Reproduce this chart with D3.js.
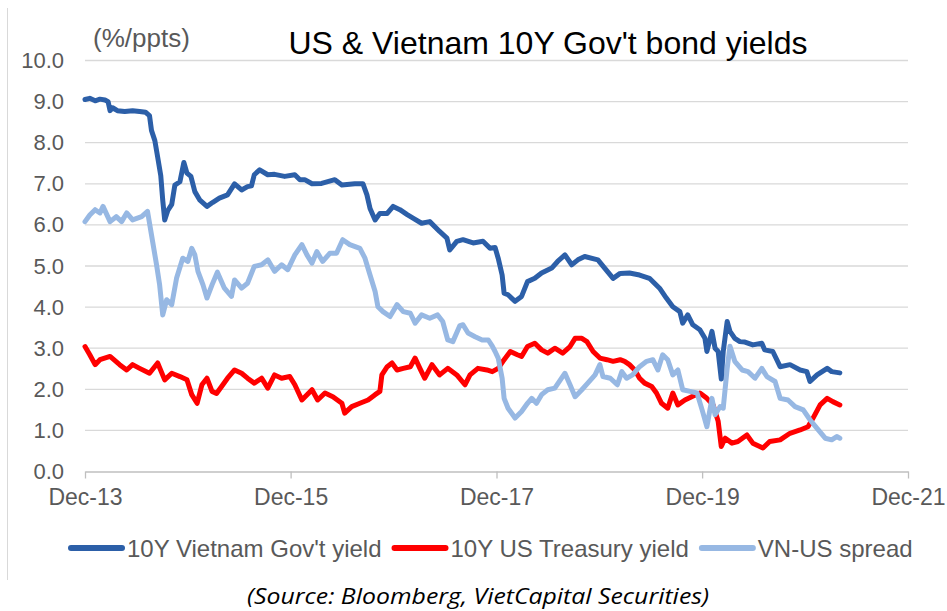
<!DOCTYPE html>
<html>
<head>
<meta charset="utf-8">
<script src="https://cdn.jsdelivr.net/npm/d3@7/dist/d3.min.js"></script>
<style>
  html, body { margin: 0; padding: 0; background: #fff; }
  svg { display: block; }
</style>
</head>
<body>
<svg id="chart" width="947" height="611"></svg>
<script>
// ---- Data: 10Y Vietnam Gov't yield (%) ----
const vnDates = [
  "2013-12-01","2013-12-18","2014-01-06","2014-01-23","2014-02-10","2014-02-21","2014-02-28","2014-03-09","2014-03-26","2014-04-21",
  "2014-05-19","2014-06-13","2014-07-04","2014-07-18","2014-07-25","2014-08-06","2014-08-16","2014-08-27","2014-09-03","2014-09-10",
  "2014-09-21","2014-10-05","2014-10-16","2014-11-03","2014-11-17","2014-11-28","2014-12-12","2014-12-26","2015-01-13","2015-02-07",
  "2015-02-28","2015-03-23","2015-04-21","2015-05-16","2015-06-10","2015-07-01","2015-07-15","2015-07-25","2015-08-13","2015-09-11",
  "2015-10-05","2015-11-10","2015-12-16","2016-01-03","2016-01-20","2016-02-15","2016-03-20","2016-05-06","2016-05-31","2016-07-16",
  "2016-08-14","2016-08-28","2016-09-08","2016-09-26","2016-10-13","2016-11-08","2016-11-29","2016-12-23","2017-01-18","2017-02-09",
  "2017-03-10","2017-04-08","2017-05-13","2017-06-08","2017-06-18","2017-07-13","2017-08-04","2017-09-09","2017-10-14","2017-11-08",
  "2017-11-26","2017-12-07","2017-12-21","2017-12-28","2018-01-11","2018-02-05","2018-02-28","2018-03-21","2018-04-16","2018-05-10",
  "2018-06-15","2018-07-06","2018-08-01","2018-08-25","2018-09-16","2018-10-10","2018-11-26","2018-12-20","2019-01-19","2019-02-13",
  "2019-03-18","2019-04-23","2019-05-28","2019-07-03","2019-07-27","2019-08-19","2019-09-13","2019-09-23","2019-10-11","2019-10-29",
  "2019-11-23","2019-12-11","2019-12-18","2020-01-05","2020-01-16","2020-01-27","2020-02-07","2020-02-14","2020-02-28","2020-03-09",
  "2020-03-26","2020-04-13","2020-05-01","2020-05-29","2020-06-30","2020-07-10","2020-08-08","2020-09-03","2020-10-08","2020-11-13",
  "2020-12-07","2020-12-18","2021-01-12","2021-02-17","2021-03-05","2021-04-03"
];
const vnYield = [
  9.05,9.08,9.02,9.06,9.04,9.00,8.78,8.85,8.78,8.76,
  8.78,8.76,8.74,8.66,8.30,8.05,7.65,7.20,6.60,6.12,
  6.35,6.50,6.97,7.05,7.52,7.26,7.18,6.81,6.60,6.45,
  6.55,6.65,6.73,7.00,6.85,6.93,6.95,7.22,7.34,7.22,
  7.23,7.18,7.22,7.10,7.10,7.00,7.01,7.10,6.97,7.00,
  7.00,6.73,6.40,6.12,6.28,6.28,6.45,6.37,6.25,6.16,
  6.04,6.08,5.84,5.68,5.39,5.60,5.64,5.56,5.60,5.43,
  5.45,5.19,4.78,4.34,4.30,4.14,4.26,4.62,4.70,4.83,
  4.95,5.11,5.27,5.03,5.15,5.23,5.15,4.95,4.70,4.82,
  4.83,4.78,4.70,4.46,4.22,4.01,3.89,3.61,3.81,3.57,
  3.45,3.24,2.92,3.41,3.00,2.92,2.25,2.92,3.65,3.41,
  3.24,3.16,3.15,3.08,3.12,2.96,2.92,2.55,2.60,2.47,
  2.43,2.19,2.35,2.51,2.43,2.40
];

// ---- Data: 10Y US Treasury yield (%) ----
const usDates = [
  "2013-12-01","2013-12-18","2014-01-06","2014-01-23","2014-02-28","2014-04-03","2014-04-28","2014-05-19","2014-06-13","2014-07-18",
  "2014-08-16","2014-09-10","2014-10-05","2014-11-03","2014-11-28","2014-12-15","2015-01-03","2015-01-20","2015-02-07","2015-02-25",
  "2015-03-13","2015-03-31","2015-04-21","2015-05-16","2015-06-10","2015-07-01","2015-07-25","2015-08-20","2015-09-11","2015-10-05",
  "2015-10-30","2015-11-28","2015-12-16","2016-01-10","2016-02-15","2016-03-06","2016-04-01","2016-04-29","2016-05-31","2016-06-10",
  "2016-07-05","2016-08-03","2016-09-01","2016-09-26","2016-10-13","2016-10-20","2016-11-08","2016-11-25","2016-12-13","2017-01-04",
  "2017-01-29","2017-02-15","2017-03-04","2017-03-21","2017-04-16","2017-05-13","2017-06-11","2017-07-13","2017-08-11","2017-08-29",
  "2017-09-26","2017-10-28","2017-11-16","2017-12-07","2017-12-24","2018-01-19","2018-02-13","2018-02-28","2018-03-21","2018-04-16",
  "2018-05-10","2018-06-01","2018-06-26","2018-07-24","2018-08-19","2018-09-06","2018-09-30","2018-10-18","2018-11-09","2018-12-03",
  "2018-12-28","2019-01-19","2019-02-13","2019-03-01","2019-03-18","2019-04-06","2019-04-23","2019-05-11","2019-06-05","2019-06-22",
  "2019-07-10","2019-08-01","2019-08-19","2019-09-06","2019-10-01","2019-10-25","2019-11-23","2019-12-18","2020-01-09","2020-01-27",
  "2020-02-07","2020-02-21","2020-03-16","2020-04-06","2020-05-08","2020-05-29","2020-07-04","2020-07-28","2020-09-03","2020-10-08",
  "2020-11-13","2020-12-11","2020-12-29","2021-01-23","2021-02-17","2021-03-09","2021-04-03"
];
const usYield = [
  3.04,2.84,2.60,2.72,2.80,2.60,2.47,2.60,2.51,2.39,
  2.64,2.23,2.39,2.31,2.23,1.87,1.66,2.11,2.27,1.95,
  1.90,2.07,2.27,2.47,2.39,2.27,2.15,2.27,2.03,2.35,
  2.27,2.31,2.11,1.74,1.99,1.74,1.91,1.82,1.66,1.42,
  1.58,1.66,1.74,1.87,1.95,2.35,2.55,2.64,2.47,2.51,
  2.55,2.76,2.51,2.27,2.60,2.35,2.51,2.35,2.11,2.35,
  2.51,2.47,2.43,2.51,2.68,2.92,2.84,2.80,3.04,3.12,
  2.96,2.88,3.00,2.88,3.04,3.24,3.24,3.16,2.92,2.76,
  2.72,2.68,2.72,2.68,2.60,2.47,2.27,2.15,2.07,1.91,
  1.66,1.54,1.91,1.62,1.74,1.82,1.91,1.78,1.62,1.22,
  0.61,0.81,0.69,0.73,0.89,0.69,0.57,0.73,0.77,0.93,
  1.01,1.09,1.30,1.62,1.78,1.70,1.62
];

// ---- Data: VN-US spread (ppts) ----
const spreadDates = [
  "2013-12-01","2013-12-18","2014-01-06","2014-01-23","2014-02-03","2014-02-28","2014-03-22","2014-04-10","2014-04-28","2014-05-19",
  "2014-06-20","2014-07-11","2014-07-25","2014-08-12","2014-08-23","2014-09-03","2014-09-17","2014-10-05","2014-10-22","2014-11-13",
  "2014-12-01","2014-12-15","2014-12-26","2015-01-06","2015-01-24","2015-02-07","2015-02-25","2015-03-16","2015-04-10","2015-05-05",
  "2015-05-16","2015-06-10","2015-07-01","2015-07-25","2015-08-20","2015-09-11","2015-10-05","2015-10-30","2015-11-21","2015-12-16",
  "2016-01-10","2016-01-28","2016-02-15","2016-03-03","2016-03-24","2016-04-18","2016-05-12","2016-06-03","2016-06-28","2016-08-03",
  "2016-08-21","2016-09-08","2016-09-26","2016-10-06","2016-10-24","2016-11-18","2016-12-13","2017-01-04","2017-01-29","2017-02-15",
  "2017-03-10","2017-04-08","2017-05-06","2017-05-24","2017-06-11","2017-06-29","2017-07-24","2017-08-04","2017-08-22","2017-09-16",
  "2017-10-11","2017-11-02","2017-11-16","2017-11-26","2017-12-07","2017-12-21","2017-12-28","2018-01-11","2018-02-05","2018-02-28",
  "2018-03-21","2018-04-05","2018-04-22","2018-05-10","2018-06-01","2018-06-26","2018-07-20","2018-08-01","2018-08-19","2018-09-06",
  "2018-09-30","2018-10-21","2018-11-16","2018-12-03","2018-12-14","2019-01-09","2019-02-03","2019-02-19","2019-03-08","2019-03-29",
  "2019-04-23","2019-05-18","2019-06-09","2019-06-27","2019-07-14","2019-08-01","2019-08-19","2019-09-06","2019-09-23","2019-10-19",
  "2019-11-13","2019-12-01","2019-12-18","2020-01-05","2020-01-16","2020-02-03","2020-02-14","2020-02-28","2020-03-09","2020-03-26",
  "2020-04-21","2020-05-12","2020-06-06","2020-06-30","2020-07-18","2020-08-16","2020-09-03","2020-10-01","2020-10-26","2020-11-24",
  "2020-12-18","2021-01-12","2021-02-10","2021-03-05","2021-03-23","2021-04-03"
];
const spread = [
  6.08,6.24,6.37,6.29,6.45,6.08,6.20,6.08,6.29,6.12,
  6.20,6.33,5.76,5.03,4.54,3.81,4.18,4.06,4.70,5.19,
  5.11,5.43,5.27,4.87,4.54,4.22,4.54,4.85,4.46,4.26,
  4.66,4.46,4.58,4.99,5.03,5.15,4.87,5.03,4.91,5.27,
  5.52,5.27,5.07,5.35,5.11,5.31,5.31,5.64,5.52,5.43,
  5.19,4.78,4.38,4.01,3.89,3.77,4.06,3.89,3.85,3.61,
  3.81,3.73,3.81,3.65,3.20,3.16,3.55,3.57,3.37,3.28,
  3.20,3.20,3.05,2.92,2.76,2.27,1.78,1.54,1.30,1.46,
  1.66,1.78,1.66,1.87,1.99,2.03,2.27,2.39,2.11,1.82,
  1.99,2.15,2.35,2.60,2.31,2.27,2.11,2.43,2.27,2.35,
  2.55,2.68,2.72,2.47,2.84,2.72,2.35,2.47,1.99,1.95,
  1.91,1.50,1.09,1.78,1.38,1.58,1.54,2.51,3.05,2.68,
  2.47,2.43,2.27,2.51,2.31,2.19,1.78,1.74,1.58,1.50,
  1.26,1.05,0.81,0.77,0.85,0.81
];

// ---- Axis ticks and labels ----
const xTickDates = ["2013-12-01","2015-12-01","2017-12-01","2019-12-01","2021-12-01"];
const yTicks = [0,1,2,3,4,5,6,7,8,9,10];

const seriesNames = ["10Y Vietnam Gov't yield", "10Y US Treasury yield", "VN-US spread"];
const seriesColors = ["#2C5FA8", "#FF0000", "#97B8E3"];

(function draw() {
  const parse = d3.timeParse("%Y-%m-%d");
  const series = [
    { name: seriesNames[0], color: seriesColors[0], pts: vnDates.map((d, i) => [parse(d), vnYield[i]]) },
    { name: seriesNames[1], color: seriesColors[1], pts: usDates.map((d, i) => [parse(d), usYield[i]]) },
    { name: seriesNames[2], color: seriesColors[2], pts: spreadDates.map((d, i) => [parse(d), spread[i]]) }
  ];

  const svg = d3.select("#chart");
  const font = "'Liberation Sans', Arial, sans-serif";
  const textGray = "#595959";

  // plot area bounds
  const pLeft = 85, pRight = 908, pTop = 60.5, pBottom = 471.5;

  const x = d3.scaleTime()
    .domain([parse(xTickDates[0]), parse(xTickDates[xTickDates.length - 1])])
    .range([pLeft, pRight]);
  const y = d3.scaleLinear().domain([0, 10]).range([pBottom, pTop]);

  // outer frame line on the left
  svg.append("line")
    .attr("x1", 7.5).attr("x2", 7.5).attr("y1", 8).attr("y2", 580)
    .attr("stroke", "#D9D9D9").attr("stroke-width", 1);

  // horizontal gridlines
  svg.append("g")
    .selectAll("line")
    .data(yTicks.filter(v => v > 0))
    .join("line")
    .attr("x1", pLeft).attr("x2", pRight)
    .attr("y1", d => y(d)).attr("y2", d => y(d))
    .attr("stroke", "#D9D9D9").attr("stroke-width", 1.3);

  // y axis labels
  const yAxis = d3.axisLeft(y).tickValues(yTicks).tickFormat(d3.format(".1f")).tickSize(0).tickPadding(0);
  const gy = svg.append("g").attr("transform", `translate(${pLeft - 21},0)`).call(yAxis);
  gy.select(".domain").remove();
  gy.selectAll("text")
    .attr("fill", textGray)
    .style("font-family", font)
    .style("font-size", "22px");

  // x axis
  const xAxis = d3.axisBottom(x)
    .tickValues(xTickDates.map(parse))
    .tickFormat(d3.timeFormat("%b-%y"))
    .tickSizeInner(7).tickSizeOuter(0).tickPadding(10);
  const gx = svg.append("g").attr("transform", `translate(0,${pBottom})`).call(xAxis);
  gx.select(".domain").attr("stroke", "#BFBFBF").attr("stroke-width", 1.3);
  gx.selectAll(".tick line").attr("stroke", "#BFBFBF").attr("stroke-width", 1.3);
  gx.selectAll("text")
    .attr("fill", textGray)
    .style("font-family", font)
    .style("font-size", "23px");

  // series lines
  const line = d3.line()
    .x(d => x(d[0]))
    .y(d => y(d[1]))
    .curve(d3.curveLinear);

  svg.append("g")
    .selectAll("path")
    .data([series[1], series[2], series[0]])
    .join("path")
    .attr("d", d => line(d.pts))
    .attr("fill", "none")
    .attr("stroke", d => d.color)
    .attr("stroke-width", 5)
    .attr("stroke-linejoin", "round")
    .attr("stroke-linecap", "round");

  // unit label and title
  svg.append("text")
    .attr("x", 93).attr("y", 47)
    .attr("fill", textGray)
    .style("font-family", font).style("font-size", "26px")
    .text("(%/ppts)");

  svg.append("text")
    .attr("x", 548).attr("y", 54)
    .attr("text-anchor", "middle")
    .attr("fill", "#000")
    .style("font-family", font).style("font-size", "32px")
    .text("US & Vietnam 10Y Gov't bond yields");

  // legend
  const legend = svg.append("g");
  let lx = 68;
  const ly = 548;
  series.forEach(s => {
    legend.append("line")
      .attr("x1", lx + 3).attr("x2", lx + 54)
      .attr("y1", ly).attr("y2", ly)
      .attr("stroke", s.color).attr("stroke-width", 6)
      .attr("stroke-linecap", "round");
    const t = legend.append("text")
      .attr("x", lx + 59).attr("y", ly + 8.5)
      .attr("fill", textGray)
      .style("font-family", font).style("font-size", "24px")
      .text(s.name);
    lx = lx + 59 + t.node().getComputedTextLength() + 10;
  });

  // source note
  svg.append("text")
    .attr("x", 478).attr("y", 604)
    .attr("text-anchor", "middle")
    .attr("fill", "#000")
    .attr("textLength", 462)
    .attr("lengthAdjust", "spacingAndGlyphs")
    .style("font-family", "'Open Sans', Lato, sans-serif")
    .style("font-style", "italic")
    .style("font-size", "22px")
    .text("(Source: Bloomberg, VietCapital Securities)");
})();
</script>
</body>
</html>
